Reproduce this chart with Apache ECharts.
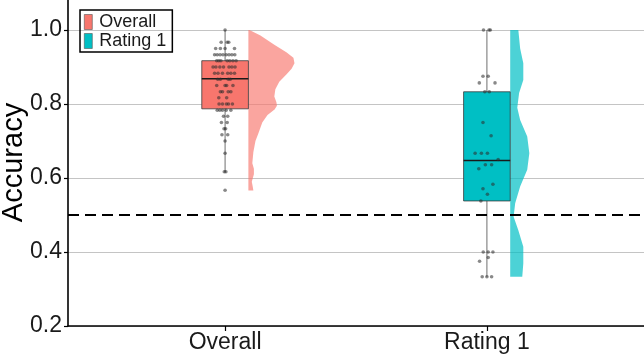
<!DOCTYPE html>
<html>
<head>
<meta charset="utf-8">
<script src="https://cdn.jsdelivr.net/npm/echarts@6/dist/echarts.min.js"></script>
<style>
  html, body { margin: 0; padding: 0; background: #fff; }
  #chart { width: 644px; height: 356px; }
</style>
</head>
<body>
<div id="chart"></div>
<script>
// categories and box stats [min, q1, median, q3, max]
var categories = ['Overall', 'Rating 1'];
var boxStats = [
  [0.617, 0.787, 0.868, 0.917, 1.0],
  [0.333, 0.538, 0.647, 0.833, 1.0]
];

// individual accuracies, with horizontal jitter (in category units)
var overallValues = [
  1.0,
  0.967, 0.967, 0.967,
  0.95, 0.95, 0.95, 0.95,
  0.933, 0.933, 0.933, 0.933, 0.933, 0.933, 0.933, 0.933,
  0.917, 0.917, 0.917, 0.917, 0.917, 0.917, 0.917,
  0.9, 0.9, 0.9, 0.9, 0.9, 0.9, 0.9,
  0.883, 0.883, 0.883, 0.883, 0.883, 0.883,
  0.867, 0.867, 0.867, 0.867,
  0.85, 0.85, 0.85, 0.85,
  0.833, 0.833, 0.833, 0.833,
  0.817, 0.817,
  0.8, 0.8, 0.8, 0.8, 0.8,
  0.783, 0.783, 0.783, 0.783, 0.783,
  0.767, 0.767,
  0.75, 0.75,
  0.733, 0.733,
  0.717, 0.717,
  0.7,
  0.667,
  0.617, 0.617,
  0.567
];
var overallJitter = [
  0,
  -0.015, 0.008, 0.014,
  -0.036, -0.018, 0.0, 0.036,
  -0.040, -0.030, -0.019, -0.008, 0.004, 0.015, 0.026, 0.037,
  -0.032, -0.024, -0.016, 0.008, 0.018, 0.030, 0.042,
  -0.046, -0.035, -0.020, -0.006, 0.015, 0.026, 0.038,
  -0.040, -0.027, -0.010, 0.010, 0.022, 0.036,
  -0.028, -0.018, 0.012, 0.020,
  -0.032, 0.0, 0.006, 0.030,
  -0.018, -0.010, 0.012, 0.022,
  -0.024, 0.006,
  -0.023, -0.010, 0.005, 0.013, 0.028,
  -0.030, -0.020, -0.010, 0.004, 0.022,
  -0.006, 0.010,
  -0.014, 0.008,
  -0.004, 0.002,
  -0.012, 0.010,
  0.0,
  0.0,
  -0.003, 0.003,
  0.0
];
var ratingValues = [
  1.0, 1.0, 1.0,
  0.875, 0.875,
  0.857, 0.857,
  0.833, 0.833,
  0.75, 0.714,
  0.667, 0.667, 0.667,
  0.65, 0.636, 0.636, 0.625,
  0.583, 0.571, 0.556, 0.538,
  0.4, 0.4, 0.4,
  0.385, 0.375,
  0.333, 0.333, 0.333
];
var ratingJitter = [
  -0.013, 0.008, 0.013,
  -0.015, 0.005,
  -0.029, 0.031,
  -0.008, 0.009,
  -0.015, 0.016,
  -0.045, -0.021, 0.002,
  0.043, -0.006, 0.018, -0.031,
  0.023, -0.015, 0.002, -0.023,
  -0.014, 0.005, 0.023,
  0.005, -0.028,
  -0.018, 0.0, 0.018
];

// half-violin outline: [accuracy, half width in category units]
var overallDensity = [
  [1.0, 0.004], [0.985, 0.046], [0.96, 0.099], [0.94, 0.145], [0.925, 0.172],
  [0.91, 0.176], [0.895, 0.165], [0.88, 0.145], [0.86, 0.118], [0.84, 0.103],
  [0.82, 0.099], [0.805, 0.107], [0.795, 0.109], [0.785, 0.100], [0.77, 0.073],
  [0.75, 0.053], [0.72, 0.038], [0.70, 0.027], [0.67, 0.019], [0.64, 0.015],
  [0.625, 0.021], [0.61, 0.021], [0.59, 0.013], [0.575, 0.017], [0.566, 0.019]
];
var ratingDensity = [
  [1.0, 0.031], [0.95, 0.038], [0.91, 0.050], [0.865, 0.050], [0.83, 0.034],
  [0.79, 0.027], [0.757, 0.038], [0.712, 0.065], [0.667, 0.073], [0.622, 0.065],
  [0.577, 0.038], [0.532, 0.019], [0.495, 0.013], [0.459, 0.031], [0.414, 0.050],
  [0.369, 0.050], [0.333, 0.046]
];

var chanceLevel = 0.5;
var yTicks = [0.2, 0.4, 0.6, 0.8, 1.0];

var colors = ['#F8766D', '#00BFC4'];
var violinColors = ['rgba(248,118,109,0.66)', 'rgba(0,191,196,0.7)'];
var boxHalf = 0.089;
var font = 'Liberation Sans, Arial, sans-serif';

function zipDots(pos, vals, jit) {
  return vals.map(function (v, i) { return [pos + jit[i], v]; });
}

function renderBox(params, api) {
  var x = api.value(0);
  var lo = api.coord([x, api.value(1)]);
  var q1 = api.coord([x, api.value(2)]);
  var md = api.coord([x, api.value(3)]);
  var q3 = api.coord([x, api.value(4)]);
  var hi = api.coord([x, api.value(5)]);
  var hw = api.size([boxHalf, 0])[0];
  var col = api.visual('color');
  return {
    type: 'group',
    children: [
      { type: 'line', shape: { x1: lo[0], y1: lo[1], x2: hi[0], y2: hi[1] },
        style: { stroke: '#6e6e6e', lineWidth: 1 } },
      { type: 'rect', shape: { x: q3[0] - hw, y: q3[1], width: hw * 2, height: q1[1] - q3[1] },
        style: { fill: col, stroke: '#3a3a3a', lineWidth: 0.8 } },
      { type: 'line', shape: { x1: md[0] - hw, y1: md[1], x2: md[0] + hw, y2: md[1] },
        style: { stroke: '#1a1a1a', lineWidth: 1.5 } }
    ]
  };
}

function violinRenderer(density) {
  return function (params, api) {
    var x0 = api.value(0) + boxHalf;
    var pts = [];
    density.forEach(function (d) { pts.push(api.coord([x0 + d[1], d[0]])); });
    for (var i = density.length - 1; i >= 0; i--) {
      pts.push(api.coord([x0, density[i][0]]));
    }
    return { type: 'polygon', shape: { points: pts }, style: { fill: api.visual('color') } };
  };
}

var chart = echarts.init(document.getElementById('chart'), null, { renderer: 'canvas' });

var option = {
  animation: false,
  textStyle: { fontFamily: font },
  grid: { left: 68, right: 0, top: -1, bottom: 30, outerBoundsMode: 'none', containLabel: false },
  legend: {
    orient: 'vertical',
    left: 80,
    top: 10,
    data: categories,
    icon: 'rect',
    itemWidth: 8,
    itemHeight: 15,
    itemGap: 1,
    borderColor: '#000',
    borderWidth: 1.5,
    borderRadius: 0,
    padding: [3, 6, 2, 4],
    itemStyle: { borderColor: '#555', borderWidth: 0.6 },
    textStyle: { fontSize: 18, color: '#1a1a1a', fontFamily: font, padding: [0, 0, 0, 2] }
  },
  xAxis: {
    type: 'value',
    min: 0.4,
    max: 2.6,
    splitLine: { show: false },
    axisLine: { lineStyle: { color: '#000', width: 1.6 } },
    axisTick: { show: true, customValues: [1, 2], length: 5, lineStyle: { color: '#000', width: 1.2 } },
    axisLabel: {
      customValues: [1, 2],
      formatter: function (v) { return categories[Math.round(v) - 1] || ''; },
      fontSize: 23, color: '#1a1a1a', margin: 5, fontFamily: font
    }
  },
  yAxis: {
    type: 'value',
    min: 0.2,
    max: 1.0838,
    name: 'Accuracy',
    nameLocation: 'middle',
    nameRotate: 90,
    nameGap: 40,
    nameMoveOverlap: false,
    nameTextStyle: { fontSize: 29, color: '#000', fontFamily: font },
    axisLine: { show: true, lineStyle: { color: '#000', width: 1.6 } },
    axisTick: { show: true, customValues: yTicks, length: 4, lineStyle: { color: '#000', width: 1.2 } },
    axisLabel: {
      customValues: yTicks,
      formatter: function (v) { return v.toFixed(1); },
      fontSize: 23, color: '#1a1a1a', margin: 6, fontFamily: font
    },
    splitLine: { show: true, lineStyle: { color: '#c4c4c4', width: 1.2 } }
  },
  series: [
    { type: 'custom', name: 'Overall violin', renderItem: violinRenderer(overallDensity),
      data: [[1, 1.0]], itemStyle: { color: violinColors[0] }, z: 1, silent: true },
    { type: 'custom', name: 'Rating 1 violin', renderItem: violinRenderer(ratingDensity),
      data: [[2, 1.0]], itemStyle: { color: violinColors[1] }, z: 1, silent: true },
    { type: 'custom', name: 'Overall', renderItem: renderBox,
      data: [[1].concat(boxStats[0])], itemStyle: { color: colors[0] }, z: 2,
      encode: { x: 0, y: [1, 2, 3, 4, 5] } },
    { type: 'custom', name: 'Rating 1', renderItem: renderBox,
      data: [[2].concat(boxStats[1])], itemStyle: { color: colors[1] }, z: 2,
      encode: { x: 0, y: [1, 2, 3, 4, 5] } },
    { type: 'scatter', name: 'dots1', data: zipDots(1, overallValues, overallJitter),
      symbolSize: 3.6, itemStyle: { color: 'rgba(45,45,45,0.7)' }, z: 3, silent: true },
    { type: 'scatter', name: 'dots2', data: zipDots(2, ratingValues, ratingJitter),
      symbolSize: 3.6, itemStyle: { color: 'rgba(45,45,45,0.7)' }, z: 3, silent: true,
      markLine: {
        silent: true,
        symbol: ['none', 'none'],
        label: { show: false },
        lineStyle: { color: '#000', type: [11, 6], width: 2 },
        data: [{ yAxis: chanceLevel }]
      }
    }
  ]
};

chart.setOption(option);
</script>
</body>
</html>
